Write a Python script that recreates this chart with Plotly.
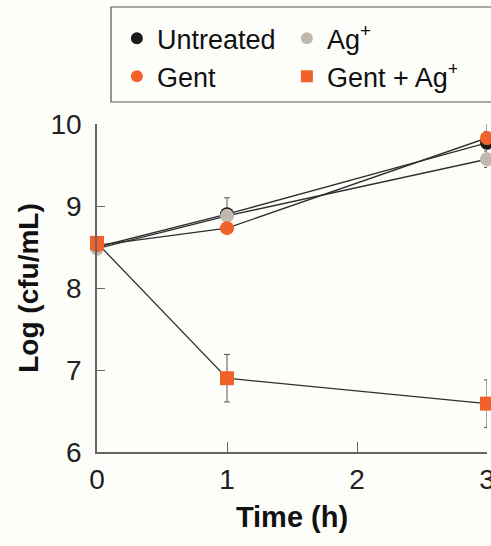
import plotly.graph_objects as go

time_h = [0, 1, 3]
untreated = [8.50, 8.90, 9.77]
untreated_err = [0.05, 0.20, 0.25]
ag = [8.48, 8.88, 9.57]
ag_err = [0.04, 0.06, 0.10]
gent = [8.52, 8.73, 9.83]
gent_err = [0.04, 0.05, 0.08]
gent_ag = [8.55, 6.90, 6.59]
gent_ag_err = [0.05, 0.29, 0.29]

names = ["Untreated", "Ag<sup>+</sup>", "Gent", "Gent + Ag<sup>+</sup>"]
series = [untreated, ag, gent, gent_ag]
errors = [untreated_err, ag_err, gent_err, gent_ag_err]
colors = ["#1b1b1b", "#c2b9ae", "#f0622a", "#f0622a"]
symbols = ["circle", "circle", "circle", "square"]

FONT = "Liberation Sans, Arial, sans-serif"
BG = "#fdfdfa"

fig = go.Figure()
for name, y, e, c, s in zip(names, series, errors, colors, symbols):
    fig.add_trace(go.Scatter(
        x=time_h, y=y, name=name, mode="lines+markers",
        line=dict(color="#2e2e2e", width=1.3),
        marker=dict(color=c, symbol=s, size=14, line=dict(width=0)),
        error_y=dict(type="data", array=e, visible=True, color="#555555",
                     thickness=1, width=3),
        cliponaxis=False,
        showlegend=False,
    ))
    fig.add_trace(go.Scatter(
        x=[None], y=[None], name=name, mode="markers",
        marker=dict(color=c, symbol=s, size=14),
        showlegend=True,
    ))

# legend frame (extends past the right edge as in the reference)
fig.add_shape(type="rect", xref="paper", yref="paper",
              x0=0.0359, x1=1.03, y0=1.067, y1=1.3567,
              line=dict(color="#555555", width=1.2), fillcolor=BG, layer="below")

fig.update_layout(
    width=491, height=546,
    margin=dict(l=97, r=4, t=124, b=94, autoexpand=False),
    paper_bgcolor=BG, plot_bgcolor=BG,
    font=dict(family=FONT, color="#1a1a1a"),
    legend=dict(
        orientation="h", x=0.051, xanchor="left", y=1.335, yanchor="top",
        entrywidth=125, entrywidthmode="pixels",
        borderwidth=0, bgcolor="rgba(0,0,0,0)",
        font=dict(size=27, family=FONT, color="#111111"),
        itemsizing="constant",
    ),
    xaxis=dict(
        range=[0, 3], tickvals=[0, 1, 2, 3], ticks="inside", ticklen=10,
        tickwidth=1.3, tickcolor="#666666",
        showline=True, linecolor="#666666", linewidth=1.5,
        showgrid=False, zeroline=False, automargin=False,
        tickfont=dict(size=28, family=FONT, color="#222222"),
        ticklabelstandoff=2, ticklabeloverflow="allow",
        title=dict(text="<b>Time (h)</b>", font=dict(size=29, family=FONT, color="#111111"), standoff=12),
    ),
    yaxis=dict(
        range=[6, 10], tickvals=[6, 7, 8, 9, 10], ticks="inside", ticklen=8,
        tickwidth=1.3, tickcolor="#666666",
        showline=True, linecolor="#666666", linewidth=1.5,
        showgrid=False, zeroline=False, automargin=False,
        tickfont=dict(size=28, family=FONT, color="#222222"),
        ticklabelstandoff=8, ticklabeloverflow="allow",
        title=dict(text="<b>Log (cfu/mL)</b>", font=dict(size=28, family=FONT, color="#111111"), standoff=4),
    ),
)

fig.write_html("out.html", config={"displayModeBar": False},
               post_script="document.body.style.margin='0';")
